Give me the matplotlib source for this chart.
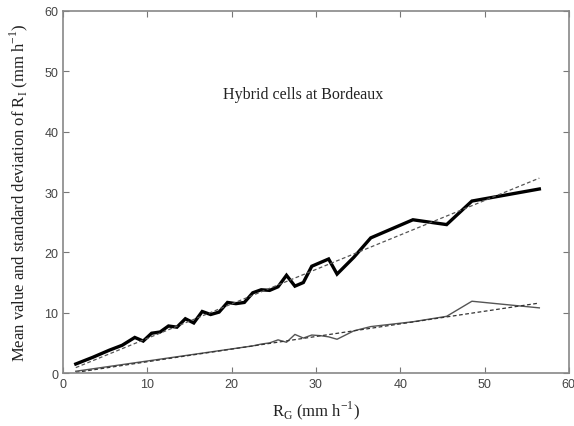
import numpy as np
import matplotlib
matplotlib.use("Agg")
import matplotlib.pyplot as plt

# rain rate of gauge (x) and mean / std of radar estimate
rg = [1.5, 3.5, 5.5, 7, 8.5, 9.5, 10.5, 11.5, 12.5, 13.5, 14.5, 15.5, 16.5, 17.5,
      18.5, 19.5, 20.5, 21.5, 22.5, 23.5, 24.5, 25.5, 26.5, 27.5, 28.5, 29.5,
      30.5, 31.5, 32.5, 34.5, 36.5, 41.5, 45.5, 48.5, 56.5]
ri_mean = [1.5, 2.6, 3.8, 4.6, 5.9, 5.3, 6.6, 6.8, 7.8, 7.6, 9.0, 8.3, 10.2, 9.7,
           10.1, 11.7, 11.5, 11.7, 13.3, 13.8, 13.7, 14.3, 16.2, 14.4, 15.0, 17.7,
           18.3, 18.9, 16.4, 19.2, 22.4, 25.4, 24.6, 28.5, 30.5]
ri_std = [0.3, 0.7, 1.1, 1.4, 1.7, 1.9, 2.1, 2.3, 2.5, 2.7, 2.9, 3.1, 3.3, 3.5,
          3.7, 3.9, 4.1, 4.3, 4.5, 4.8, 5.0, 5.5, 5.1, 6.4, 5.8, 6.3,
          6.2, 6.0, 5.6, 7.0, 7.7, 8.5, 9.4, 11.9, 10.8]

# linear fits (end points)
fit_x = [1.5, 56.5]
fit_mean = [0.9, 32.3]
fit_std = [0.1, 11.6]

plt.rcParams['font.family'] = ['Liberation Sans', 'DejaVu Sans']

fig = plt.figure(figsize=(5.74, 4.27), dpi=100)
ax = fig.add_axes([0.110, 0.124, 0.881, 0.848])

ax.plot(rg, ri_mean, color='black', lw=2.4, solid_joinstyle='miter')
ax.plot(fit_x, fit_mean, color='#555555', lw=0.9, ls=(0, (3, 2)))
ax.plot(rg, ri_std, color='#555555', lw=1.0)
ax.plot(fit_x, fit_std, color='#333333', lw=0.9, ls=(0, (3, 2)))

ax.set_xlim(0, 60)
ax.set_ylim(0, 60)
ax.set_xticks(np.arange(0, 61, 10))
ax.set_yticks(np.arange(0, 61, 10))
ax.tick_params(direction='in', top=True, right=True, labelsize=9,
               color='#777777', labelcolor='#444444', length=4)
for s in ax.spines.values():
    s.set_color('#888888')
    s.set_linewidth(1.2)

ax.text(19, 46.3, 'Hybrid cells at Bordeaux', family='Liberation Serif',
        fontsize=11.5, va='center', color='#222222')
ax.set_xlabel('R$_\\mathregular{G}$ (mm h$^\\mathregular{-1}$)', family='Liberation Serif',
              fontsize=12, color='#222222', labelpad=6)
ax.set_ylabel('Mean value and standard deviation of R$_\\mathregular{I}$ (mm h$^\\mathregular{-1}$)',
              family='Liberation Serif', fontsize=12, color='#222222', labelpad=10)

fig.savefig('out.png', dpi=100)
